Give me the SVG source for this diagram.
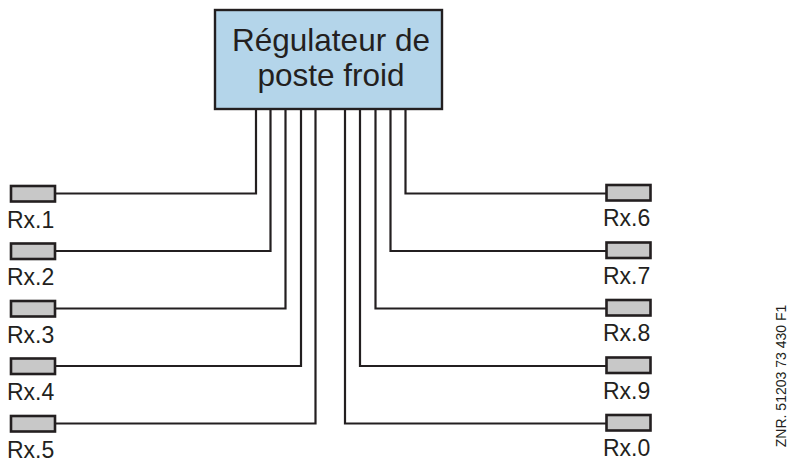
<svg xmlns="http://www.w3.org/2000/svg" width="788" height="461" viewBox="0 0 788 461">
<style>
.w{fill:none;stroke:#231f20;stroke-width:2.2}
.r{fill:#c8c8c8;stroke:#231f20;stroke-width:2.6}
.l{font-family:"Liberation Sans",Arial,sans-serif;font-size:23px;fill:#231f20}
.t{font-family:"Liberation Sans",Arial,sans-serif;font-size:31.5px;fill:#231f20;text-anchor:middle}
.z{font-family:"Liberation Sans",Arial,sans-serif;font-size:14px;fill:#231f20;text-anchor:middle}
</style>
<rect width="788" height="461" fill="#ffffff"/>
<g id="connectors">
<path class="w" d="M56 193.5H256V110"/>
<path class="w" d="M56 251H270.5V110"/>
<path class="w" d="M56 308.5H285.5V110"/>
<path class="w" d="M56 366H301V110"/>
<path class="w" d="M56 423.5H315.5V110"/>
<path class="w" d="M606 193.5H405.5V110"/>
<path class="w" d="M606 251H390.5V110"/>
<path class="w" d="M606 308.5H375.5V110"/>
<path class="w" d="M606 366H360V110"/>
<path class="w" d="M606 423.5H345V110"/>
</g>
<g id="controller">
<rect x="215" y="10" width="227" height="99" fill="#b4d5ea" stroke="#231f20" stroke-width="2.4"/>
<text class="t" x="331" y="50.5">Régulateur de</text>
<text class="t" x="331" y="86">poste froid</text>
</g>
<g id="rx1"><rect class="r" x="11" y="186" width="44" height="15.5"/><text class="l" x="7" y="227.5">Rx.1</text></g>
<g id="rx2"><rect class="r" x="11" y="243.5" width="44" height="15.5"/><text class="l" x="7" y="285">Rx.2</text></g>
<g id="rx3"><rect class="r" x="11" y="301" width="44" height="15.5"/><text class="l" x="7" y="342.5">Rx.3</text></g>
<g id="rx4"><rect class="r" x="11" y="358.5" width="44" height="15.5"/><text class="l" x="7" y="400">Rx.4</text></g>
<g id="rx5"><rect class="r" x="11" y="416" width="44" height="15.5"/><text class="l" x="7" y="457.5">Rx.5</text></g>
<g id="rx6"><rect class="r" x="606.5" y="185" width="44" height="15.5"/><text class="l" x="603" y="226">Rx.6</text></g>
<g id="rx7"><rect class="r" x="606.5" y="242.5" width="44" height="15.5"/><text class="l" x="603" y="283.5">Rx.7</text></g>
<g id="rx8"><rect class="r" x="606.5" y="300" width="44" height="15.5"/><text class="l" x="603" y="341">Rx.8</text></g>
<g id="rx9"><rect class="r" x="606.5" y="357.5" width="44" height="15.5"/><text class="l" x="603" y="398.5">Rx.9</text></g>
<g id="rx0"><rect class="r" x="606.5" y="415" width="44" height="15.5"/><text class="l" x="603" y="456">Rx.0</text></g>
<text class="z" transform="translate(786,376) rotate(-90)">ZNR. 51203 73 430 F1</text>
</svg>
